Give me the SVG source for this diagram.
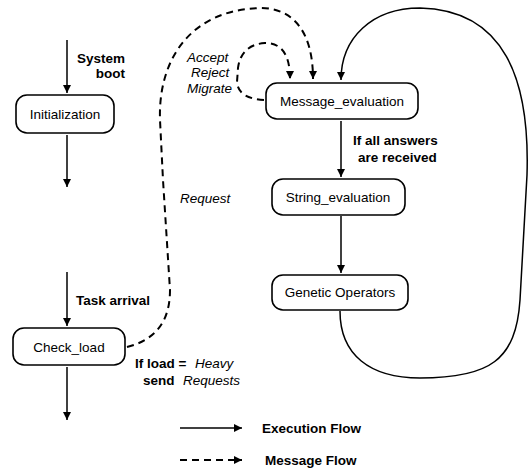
<svg xmlns="http://www.w3.org/2000/svg" width="532" height="468" viewBox="0 0 532 468">
<defs>
<marker id="ah" viewBox="0 0 10 10" refX="10" refY="5" markerWidth="8" markerHeight="8" markerUnits="userSpaceOnUse" orient="auto">
<path d="M0,0 L10,5 L0,10 z" fill="#000"/>
</marker>
<style>
.node rect{fill:#fff;stroke:#000;stroke-width:1.6}
.node text{font-family:"Liberation Sans",Arial,sans-serif;font-size:13.5px;text-anchor:middle;fill:#000}
.solid{fill:none;stroke:#000;stroke-width:1.5}
.dash{fill:none;stroke:#000;stroke-width:2;stroke-dasharray:7 5}
.lbl{font-family:"Liberation Sans",Arial,sans-serif;font-size:13.5px;fill:#000}
.b{font-weight:bold}
.i{font-style:italic}
</style>
</defs>
<rect width="532" height="468" fill="#fff"/>
<g id="connectors">
<path class="solid" d="M67,40 L67,93" marker-end="url(#ah)"/>
<path class="solid" d="M67,135 L67,187" marker-end="url(#ah)"/>
<path class="solid" d="M67,272 L67,326" marker-end="url(#ah)"/>
<path class="solid" d="M67,367 L67,420" marker-end="url(#ah)"/>
<path class="solid" d="M341,121 L341,177" marker-end="url(#ah)"/>
<path class="solid" d="M341,216 L341,273" marker-end="url(#ah)"/>
<path class="solid" d="M340,311 C340,355 370,378 420,378 C490,378 516,360 520,300 L527,175 C530,80 505,10 420,8 C372,8 341,38 341,80" marker-end="url(#ah)"/>
<path class="dash" d="M264,100 C250,99 238,95 237,82 L238,68 C240,52 250,44 265,43 C282,43 290,55 290,79" marker-end="url(#ah)"/>
<path class="dash" d="M127,347 C155,340 170,322 170,290 L163,180 L160,120 C158,60 190,10 260,8 C292,8 313,30 313,79" marker-end="url(#ah)"/>
<path class="solid" d="M180,428 L242,428" marker-end="url(#ah)"/>
<path class="dash" d="M180,460 L242,460" stroke-width="1.6" marker-end="url(#ah)"/>
</g>
<g id="initialization" class="node"><rect x="16" y="95" width="98" height="38" rx="11"/><text x="65" y="119">Initialization</text></g>
<g id="check_load" class="node"><rect x="13" y="328" width="112" height="37" rx="11"/><text x="69" y="352">Check_load</text></g>
<g id="message_evaluation" class="node"><rect x="266" y="83" width="152" height="36" rx="11"/><text x="342" y="106">Message_evaluation</text></g>
<g id="string_evaluation" class="node"><rect x="272" y="179" width="133" height="36" rx="11"/><text x="338" y="202">String_evaluation</text></g>
<g id="genetic_operators" class="node"><rect x="272" y="275" width="136" height="35" rx="11"/><text x="340" y="297">Genetic Operators</text></g>
<g id="labels">
<text class="lbl b" x="77" y="63">System</text>
<text class="lbl b" x="125" y="78" text-anchor="end">boot</text>
<text class="lbl i" x="187" y="62">Accept</text>
<text class="lbl i" x="191" y="77">Reject</text>
<text class="lbl i" x="187" y="93">Migrate</text>
<text class="lbl i" x="180" y="203">Request</text>
<text class="lbl b" x="353" y="145">If all answers</text>
<text class="lbl b" x="358" y="162">are received</text>
<text class="lbl b" x="76" y="305">Task arrival</text>
<text class="lbl" x="135" y="368"><tspan class="b">If load =</tspan><tspan class="i" x="195">Heavy</tspan></text>
<text class="lbl" x="143" y="385"><tspan class="b">send</tspan><tspan class="i" x="183">Requests</tspan></text>
<text class="lbl b" x="262" y="433">Execution Flow</text>
<text class="lbl b" x="265" y="465">Message Flow</text>
</g>
</svg>
